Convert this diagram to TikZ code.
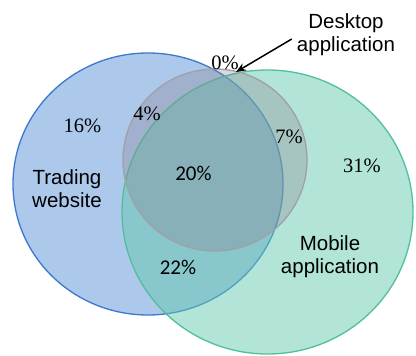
\documentclass[tikz,border=0pt]{standalone}
\usepackage{fontspec}
\setmainfont{Liberation Serif}
\newfontfamily\lsans{Liberation Sans}
\newfontfamily\carl{Carlito}
\usetikzlibrary{arrows.meta}
\definecolor{bluefill}{RGB}{172,200,234}
\definecolor{blueline}{RGB}{60,120,205}
\definecolor{greenfill}{RGB}{101,201,177}
\definecolor{greenline}{RGB}{80,192,155}
\definecolor{grayfill}{RGB}{138,122,138}
\definecolor{grayline}{RGB}{160,160,168}
\tikzset{
  setlabel/.style={font=\lsans\fontsize{20.5}{23}\selectfont, align=center, inner sep=0pt, text=black},
  pctserif/.style={font=\fontsize{20.5}{23}\selectfont, inner sep=0pt, text=black},
  pctsans/.style={font=\carl\fontsize{21}{23}\selectfont, inner sep=0pt, text=black},
  bluecirc/.style={fill=bluefill, draw=blueline, line width=1.3pt},
  greencirc/.style={fill=greenfill, fill opacity=0.5, draw=greenline, draw opacity=1, line width=1.3pt},
  graycirc/.style={fill=grayfill, fill opacity=0.3, draw=grayline, draw opacity=1, line width=1.3pt},
  pointer/.style={-{Stealth[length=10pt,width=8pt]}, line width=1.5pt, black}
}
\begin{document}
\begin{tikzpicture}[x=1pt,y=-1pt]
\useasboundingbox (0,0) rectangle (416,356);
\filldraw[bluecirc] (148,184) ellipse [x radius=135, y radius=131];
\filldraw[greencirc] (267.5,212) ellipse [x radius=145.5, y radius=142];
\filldraw[graycirc] (215,160) ellipse [x radius=92, y radius=91];
\node[setlabel] (trade) at (67,189) {Trading\\website};
\node[setlabel] (mobile) at (330,257) {Mobile\\application};
\node[setlabel] (desk) at (346,35) {Desktop\\application};
\node[pctserif] (p16) at (82.5,126) {16\%};
\node[pctserif] (p4) at (147,114) {4\%};
\node[pctserif] (p0) at (225,63) {0\%};
\node[pctserif] (p7) at (289,137) {7\%};
\node[pctserif] (p31) at (362,166) {31\%};
\node[pctsans] (p20) at (193.5,173.5) {20\%};
\node[pctsans] (p22) at (178,267) {22\%};
\coordinate (tip) at (236,72);
\draw[pointer] ([xshift=-5pt,yshift=-4pt]desk.west) -- (tip);
\end{tikzpicture}
\end{document}
